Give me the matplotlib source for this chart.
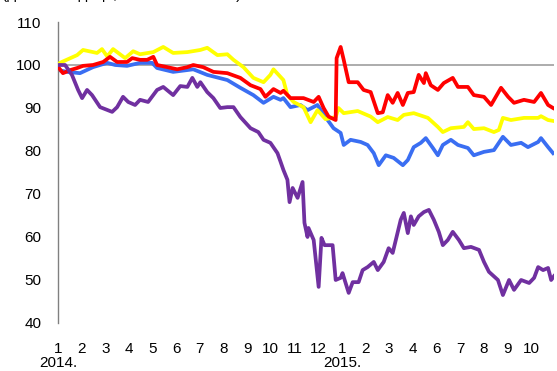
import matplotlib
matplotlib.use("Agg")
import matplotlib.pyplot as plt
import matplotlib.transforms as mtransforms

plt.rcParams['font.family'] = ['Liberation Sans', 'DejaVu Sans']

# time axis in months since start of January 2014
yellow_t = [0, 0.08, 0.81, 1.06, 1.65, 1.86, 2.08, 2.33, 2.84, 3.18, 3.47,
            4.03, 4.45, 4.87, 5.47, 6.02, 6.31, 6.74, 7.16, 7.42, 7.84,
            8.26, 8.69, 8.98, 9.11, 9.53, 9.70, 9.96, 10.38, 10.68, 10.97,
            11.31, 11.74, 11.86, 12.08, 12.67, 13.22, 13.52, 13.94, 14.36, 14.62,
            15.04, 15.64, 16.06, 16.27, 16.61, 17.16, 17.33, 17.58, 18.01, 18.43,
            18.64, 18.81, 19.15, 19.70, 20.30, 20.42, 20.72, 20.93]
yellow_v = [100, 100.5, 102.3, 103.5, 102.8, 103.7, 102, 103.7, 101.6, 103.2, 102.5,
            103, 104.2, 102.8, 103, 103.5, 104, 102.3, 102.5, 101.2, 99.5,
            97, 96, 97.7, 99, 96.5, 93, 91.4, 90.2, 86.7, 89.5,
            87.4, 87.9, 90, 88.8, 89.3, 88, 86.7, 87.9, 87.2, 88.4,
            88.8, 87.7, 85.6, 84.4, 85.3, 85.6, 86.7, 85.1, 85.3, 84.4,
            84.9, 87.7, 87.2, 87.7, 87.7, 88.1, 87.2, 87]

red_t = [0, 0.04, 0.21, 0.51, 0.81, 1.06, 1.48, 1.91, 2.20, 2.50, 2.92,
         3.14, 3.47, 3.77, 4.03, 4.19, 4.62, 5.04, 5.47, 5.72, 6.14,
         6.57, 7.16, 7.71, 8.14, 8.56, 8.77, 9.11, 9.41, 9.53, 9.83,
         10.38, 10.81, 11.02, 11.23, 11.44, 11.74, 11.78, 11.95, 12.08, 12.29,
         12.67, 12.92, 13.22, 13.52, 13.73, 13.94, 14.15, 14.36, 14.58, 14.79,
         15.04, 15.25, 15.47, 15.55, 15.76, 16.06, 16.31, 16.69, 16.91, 17.33,
         17.58, 18.01, 18.31, 18.73, 19.03, 19.28, 19.70, 20.13, 20.42, 20.72,
         20.93]
red_v = [99.5, 99.3, 98.1, 98.8, 99.3, 99.8, 100, 100.7, 101.9, 100.7, 100.7,
         101.6, 101.2, 101.2, 101.9, 100, 99.5, 99, 99.5, 100, 99.5,
         98.4, 98.1, 97, 95.3, 94.4, 92.6, 94.4, 93.5, 94, 92.3,
         92.3, 91.4, 92.6, 90, 88, 87.2, 101.6, 104.2, 101.2, 96,
         96, 94.2, 93.7, 88.8, 89, 93, 91.2, 93.5, 90.7, 93.5,
         93.7, 97.7, 95.8, 98.1, 95.3, 94.2, 95.8, 97, 94.9, 94.9,
         93, 92.6, 90.7, 94.7, 92.6, 91.2, 91.9, 91.4, 93.5, 90.7,
         90]

blue_t = [0, 0.04, 0.38, 0.93, 1.48, 2.08, 2.42, 2.92, 3.47, 3.98, 4.19,
          4.87, 5.72, 6.31, 7.16, 7.71, 8.26, 8.69, 9.11, 9.41, 9.53,
          9.83, 10.25, 10.55, 10.97, 11.40, 11.65, 11.95, 12.08, 12.37, 12.80,
          13.09, 13.35, 13.56, 13.86, 14.19, 14.58, 14.79, 15.04, 15.34, 15.55,
          15.85, 16.06, 16.27, 16.61, 16.91, 17.33, 17.58, 18.01, 18.43, 18.81,
          19.15, 19.58, 19.87, 20.30, 20.42, 20.72, 20.93]
blue_v = [99.5, 98.8, 98.4, 98.1, 99.5, 100.5, 100, 99.8, 100.5, 100.5, 99.3,
          98.4, 99, 97.7, 96.5, 94.7, 93, 91.2, 92.6, 91.9, 92.3,
          90.2, 90.7, 89.5, 90.7, 87.2, 85.3, 84.2, 81.4, 82.6, 82.1,
          81.4, 79.5, 76.7, 79, 78.4, 76.7, 77.9, 80.9, 81.9, 83,
          80.7, 79, 81.4, 82.6, 81.4, 80.7, 79, 79.8, 80.2, 83.3,
          81.4, 81.9, 80.9, 82.1, 83, 80.9, 79.5]

purple_t = [0, 0.30, 0.59, 0.85, 1.02, 1.23, 1.44, 1.78, 2.29, 2.50, 2.75,
            2.97, 3.26, 3.47, 3.81, 4.19, 4.45, 4.87, 5.17, 5.47, 5.68,
            5.89, 6.02, 6.31, 6.57, 6.86, 7.16, 7.42, 7.71, 8.14, 8.47,
            8.69, 8.98, 9.28, 9.41, 9.53, 9.70, 9.79, 9.92, 10.13, 10.34,
            10.42, 10.55, 10.59, 10.81, 11.02, 11.14, 11.27, 11.61, 11.74, 11.95,
            12.03, 12.29, 12.46, 12.71, 12.88, 13.09, 13.35, 13.52, 13.77, 13.98,
            14.15, 14.49, 14.62, 14.79, 14.92, 15.04, 15.25, 15.47, 15.68, 15.89,
            16.10, 16.27, 16.48, 16.69, 16.95, 17.16, 17.46, 17.80, 18.01, 18.22,
            18.60, 18.81, 19.07, 19.28, 19.58, 19.92, 20.13, 20.30, 20.51, 20.72,
            20.85, 20.97]
purple_v = [100, 100, 97.7, 94.2, 92.3, 94.2, 93, 90.2, 89.1, 90.2, 92.6,
            91.4, 90.7, 91.9, 91.4, 94.2, 94.9, 93, 95.1, 94.9, 97,
            94.9, 96, 93.7, 92.3, 90, 90.2, 90.2, 87.9, 85.3, 84.4,
            82.6, 81.9, 79.5, 77.5, 75.6, 73.3, 68.1, 71.4, 69.1, 72.8,
            63.3, 60, 62.1, 59.3, 48.4, 59.8, 58.1, 58.1, 50, 50.5,
            51.6, 47, 49.5, 49.5, 52.3, 53, 54.2, 52.3, 54.2, 57.4,
            56.3, 64, 65.6, 60.9, 64.8, 62.8, 64.8, 65.8, 66.3, 64,
            61.2, 58.1, 59.3, 61.2, 59.3, 57.4, 57.7, 57, 54.2, 51.9,
            50, 46.5, 50, 47.7, 50, 49.3, 50.5, 53, 52.3, 52.8,
            50, 50.9]

tick_labels = ['1', '2', '3', '4', '5', '6', '7', '8', '9', '10', '11', '12',
               '1', '2', '3', '4', '6', '7', '8', '9', '10']
years = ['2014.', '2015.']
year_pos = [0, 12]

fig = plt.figure(figsize=(5.57, 3.71), dpi=100)
ax = fig.add_axes([0.1041, 0.1294, 0.8905, 0.8113])

ax.axhline(100, color='#a6a6a6', lw=1.3, zorder=1)

lw = 2.7
ax.plot(blue_t, blue_v, color='#3a6ef2', lw=lw, zorder=2)
ax.plot(yellow_t, yellow_v, color='#ffff00', lw=lw, zorder=3)
ax.plot(red_t, red_v, color='#ff0000', lw=lw, zorder=4)
ax.plot(purple_t, purple_v, color='#7030a0', lw=lw, zorder=5)

ax.set_xlim(0, 20.97)
ax.set_ylim(40, 110)
ax.set_yticks(range(40, 111, 10))
ax.set_xticks(range(len(tick_labels)))
ax.set_xticklabels(tick_labels)

for s in ['top', 'right', 'bottom']:
    ax.spines[s].set_visible(False)
ax.spines['left'].set_color('#808080')
ax.spines['left'].set_linewidth(1.0)
ax.tick_params(axis='both', length=0, labelsize=11, colors='black')
ax.tick_params(axis='y', pad=12)
ax.tick_params(axis='x', pad=14)

trans = mtransforms.blended_transform_factory(ax.transData, ax.transAxes)
for pos, yr in zip(year_pos, years):
    ax.text(pos, -0.133, yr, transform=trans, ha='center', va='center', fontsize=11)

# subtitle sits above the top edge, only its lowest strokes fall inside the canvas
fig.text(0.004, 1.0015, '(дневни подаци, 1. 1. 2014. = 100)', ha='left',
         va='baseline', fontsize=11, color='black')

fig.savefig('out.png', dpi=100)
